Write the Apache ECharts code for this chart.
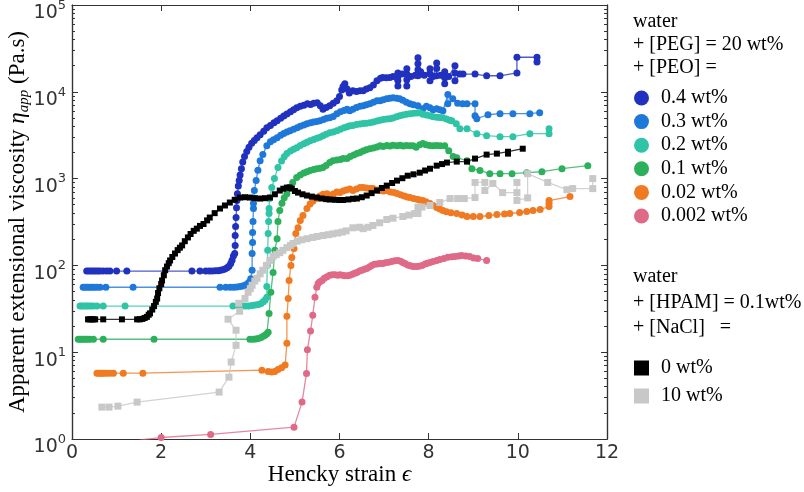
<!DOCTYPE html>
<html>
<head>
<meta charset="utf-8">
<script src="https://cdn.jsdelivr.net/npm/echarts@6/dist/echarts.min.js"></script>
<style>
html, body { margin: 0; padding: 0; background: #fff; }
#chart { width: 804px; height: 492px; }
</style>
</head>
<body>
<div id="chart"></div>
<script>
// [Hencky strain, apparent extensional viscosity (Pa.s)]
var peo_04 = [[0.33,86],[0.38,86],[0.43,86],[0.48,86],[0.53,86],[0.58,86],[0.63,86],[0.70,86],[0.78,86],[0.85,86],[1.00,86],[1.23,86],[2.69,86],[2.87,86],[3.00,86],[3.08,86],[3.15,86],[3.22,87],[3.28,87],[3.33,88],[3.38,89],[3.43,91],[3.48,94],[3.52,98],[3.56,105],[3.59,115],[3.62,128],
    [3.65,137],[3.66,170],[3.66,221],[3.67,280],[3.68,356],[3.69,460],[3.70,560],[3.71,670],
    [3.73,820],[3.75,950],[3.77,1100],[3.80,1300],[3.83,1550],[3.87,1800],[3.92,2050],[3.97,2300],[4.03,2550],[4.09,2750],[4.15,2950],[4.22,3200],[4.30,3500],[4.37,3850],[4.45,4100],[4.53,4400],[4.60,4650],[4.68,4950],[4.75,5250],[4.82,5550],[4.90,5900],[4.97,6200],[5.04,6550],[5.12,6800],[5.20,7000],[5.28,7300],[5.35,7150],[5.42,7400],[5.50,7500],[5.57,6900],[5.63,6300],[5.70,6600],[5.78,6900],[5.86,7400],[5.94,7900],[6.00,8800],[6.05,10500],[6.08,11500],[6.12,12400],[6.17,10800],[6.22,9700],[6.30,10300],[6.38,10100],[6.46,10300],[6.53,10300],[6.60,10800],[6.68,11100],[6.76,12000],[6.84,13400],[6.92,14300],[6.97,14600],[7.05,14500],[7.13,14600],
    [7.20,15000],[7.31,11700],[7.31,13500],[7.31,15000],[7.31,16500],[7.40,16000],[7.51,18400],[7.51,16000],[7.51,13800],[7.51,11700],[7.60,15000],[7.70,15500],[7.76,15300],[7.76,18000],[7.76,21000],[7.76,24600],[7.82,17000],[7.90,15500],[8.03,18400],[8.03,16000],[8.03,13400],[8.10,15000],[8.18,21500],[8.18,18500],[8.18,15300],[8.27,15500],[8.36,17000],[8.36,14500],[8.36,12400],[8.45,15000],[8.59,19900],[8.59,16500],[8.59,13400],[8.70,16000],[8.77,16000],[9.04,16000],[9.30,15300],[9.60,15300],[9.98,16500],[9.98,25000],[10.43,25000],[10.43,22000]];

var peo_03 = [[0.25,56],[0.30,56],[0.35,56],[0.40,56],[0.45,56],[0.50,56],[0.56,56],[0.63,56],[0.76,56],[1.37,56],[3.32,56],[3.45,56],[3.55,56],[3.63,56],[3.70,56.5],[3.77,57],[3.83,58],[3.88,59],[3.93,61],[3.97,64],[4.01,70],
    [4.04,88],[4.04,137],[4.05,184],[4.05,240],[4.06,321],[4.07,452],[4.07,520],[4.08,589],[4.09,728],
    [4.13,950],[4.17,1250],[4.22,1610],[4.28,1900],[4.37,2390],[4.45,2650],[4.52,2800],[4.60,2960],[4.68,3150],[4.75,3300],[4.82,3450],[4.89,3560],[4.97,3700],[5.05,3850],[5.12,4000],[5.20,4150],[5.27,4290],[5.35,4400],[5.42,4500],[5.49,4550],[5.56,4640],[5.64,4800],[5.71,4950],[5.78,5020],[5.86,5200],[5.94,5590],[6.02,5900],[6.10,6100],[6.17,6300],[6.23,6050],[6.30,6300],[6.38,6600],[6.46,6800],[6.53,6900],[6.60,7100],[6.68,7300],[6.76,7600],[6.84,7900],[6.91,7880],[6.98,8100],[7.06,8300],[7.13,8400],[7.20,8530],[7.28,8400],[7.35,8310],[7.42,8000],[7.50,7600],[7.58,7280],[7.66,7100],[7.76,6900],[7.87,6380],[7.95,6800],[8.03,6550],[8.10,6200],[8.18,6380],[8.25,6200],[8.32,6050],
    [8.43,9300],[8.43,7280],[8.54,8310],[8.65,7400],[8.76,7280],[8.86,7280],[9.04,7280],[9.04,5300],[9.08,4900],[9.33,5440],[9.60,5590],[9.89,5590],[10.27,5590],[10.49,5740]];

var peo_02 = [[0.18,34],[0.22,34],[0.27,34],[0.32,34],[0.37,34],[0.42,34],[0.48,34],[0.56,34],[0.70,34],[1.19,34],[3.61,34],[3.75,34],[3.83,34],[3.90,34],[3.97,34],[4.04,34.5],[4.11,35],[4.18,35.5],[4.24,36.5],[4.29,38],[4.33,40],
    [4.37,43],[4.37,57],[4.38,100],[4.39,149],[4.40,233],[4.41,321],[4.42,396],[4.42,452],[4.43,589],
    [4.48,790],[4.54,1000],[4.62,1340],[4.70,1600],[4.76,1780],[4.82,1940],[4.90,2080],[4.97,2180],[5.04,2270],[5.12,2400],[5.20,2520],[5.27,2620],[5.34,2730],[5.42,2830],[5.49,2920],[5.56,3000],[5.63,3120],[5.70,3250],[5.78,3380],[5.86,3450],[5.94,3560],[6.02,3700],[6.10,3850],[6.17,3950],[6.23,4060],[6.30,4100],[6.38,4200],[6.46,4250],[6.53,4300],[6.60,4350],[6.68,4400],[6.76,4500],[6.84,4600],[6.91,4700],[6.98,4800],[7.06,4850],[7.13,4900],[7.20,5000],[7.28,5150],[7.35,5300],[7.42,5400],[7.50,5500],[7.58,5590],[7.66,5650],[7.74,5700],[7.80,5740],[7.87,5500],[7.95,5400],[8.03,5300],[8.10,5150],[8.18,5100],[8.25,5050],[8.32,5020],[8.40,4850],[8.47,4700],[8.52,4640],
    [8.62,4290],[8.70,3760],[8.86,3760],[9.08,3290],[9.30,3120],[9.60,3040],[9.89,3040],[10.27,3290],[10.70,3290],[10.70,3760]];

var peo_01 = [[0.14,14.1],[0.18,14.1],[0.22,14.1],[0.26,14.1],[0.30,14.1],[0.35,14.1],[0.40,14.1],[0.48,14.1],[0.70,14.1],[1.84,14.1],[3.99,14.1],[4.06,14.1],[4.12,14.2],[4.18,14.4],[4.24,14.8],[4.29,15.3],[4.33,15.7],[4.37,16.3],[4.40,17.0],
    [4.42,28],[4.46,49],[4.51,83],[4.55,149],[4.60,203],[4.62,321],[4.66,429],[4.71,520],[4.76,600],
    [4.82,670],[4.88,790],[4.95,900],[5.04,1030],[5.12,1100],[5.20,1160],[5.27,1200],[5.34,1240],[5.42,1270],[5.49,1300],[5.56,1320],[5.63,1340],[5.70,1420],[5.78,1530],[5.85,1610],[5.94,1640],[6.02,1660],[6.08,1700],[6.17,1700],[6.24,1800],[6.32,1870],[6.39,1940],[6.46,2000],[6.53,2080],[6.60,2150],[6.68,2210],[6.76,2250],[6.84,2320],[6.91,2390],[6.98,2350],[7.06,2400],[7.13,2380],[7.20,2420],[7.29,2390],[7.36,2420],[7.43,2380],[7.50,2400],[7.58,2390],[7.65,2390],[7.72,2300],[7.80,2450],[7.87,2530],[7.94,2450],[8.02,2400],[8.10,2390],[8.18,2400],[8.26,2390],[8.36,2390],
    [8.45,2100],[8.55,1800],[8.63,1740],[8.86,1610],[8.97,1300],[9.15,1240],[9.37,1140],[9.60,1140],[9.87,1140],[10.20,1170],[10.54,1200],[10.99,1300],[11.57,1410]];

var peo_002 = [[0.56,5.74],[0.60,5.74],[0.64,5.74],[0.68,5.74],[0.72,5.74],[0.78,5.74],[0.85,5.74],[0.93,5.74],[1.15,5.74],[1.59,5.74],[4.26,6.2],[4.40,6.0],[4.48,5.9],[4.55,6.0],[4.62,6.3],[4.70,6.6],[4.78,7.1],
    [4.82,12.7],[4.82,26],[4.85,41.5],[4.87,67],[4.91,100],[4.93,123],[4.98,157],[5.02,233],[5.07,271],[5.12,330],[5.18,376],[5.27,452],[5.34,510],[5.40,550],[5.49,589],[5.56,630],[5.63,660],[5.72,670],[5.78,640],[5.86,665],[5.94,700],[6.01,690],[6.08,720],[6.15,740],[6.23,760],[6.30,728],[6.38,760],[6.46,790],[6.53,788],[6.60,780],[6.68,770],[6.75,767],[6.84,740],[6.92,730],[6.99,720],[7.06,728],[7.14,700],[7.22,690],[7.29,673],[7.37,650],[7.45,630],[7.52,615],[7.58,605],[7.66,590],[7.74,580],[7.80,565],[7.87,559],
    [7.94,540],[8.03,515],[8.10,490],[8.18,465],[8.25,445],[8.32,429],[8.40,415],[8.50,405],[8.63,396],[8.75,380],[8.86,366],[9.00,366],[9.15,366],[9.35,375],[9.53,386],[9.70,392],[9.82,396],[10.04,407],[10.20,418],[10.34,429],[10.50,440],[10.70,477],[10.70,520],[10.70,559],[11.17,621]];

var peo_0002 = [[1.32,0.91],[1.57,0.98],[2.00,1.04],[3.11,1.13],[4.98,1.37],[5.16,2.66],[5.26,5.7],[5.28,10.7],[5.35,17.5],[5.40,26.6],[5.45,42.9],[5.49,55.9],[5.52,62],[5.56,65],[5.61,67],[5.66,71],[5.72,74],[5.78,76.8],[5.84,78],[5.90,78],[5.96,77],[6.01,78],[6.07,77],[6.12,76],[6.18,76],[6.23,76.8],[6.29,79],[6.34,81],[6.39,83.1],[6.45,86],[6.50,88],[6.56,90],[6.61,92.4],[6.67,96],[6.72,100],[6.78,103],[6.84,104],[6.90,105],[6.97,105],[7.03,107],[7.10,109],[7.17,111],[7.24,113],[7.31,114],[7.37,112],[7.42,108],[7.47,105],[7.53,101],[7.59,99],[7.65,97.4],[7.72,97],[7.78,98],[7.85,100],[7.92,104],[7.97,106],[8.03,108],[8.10,111],[8.18,114],[8.25,117],[8.34,120],[8.43,124],[8.52,126],[8.59,127],[8.67,128],[8.74,130],[8.83,128],[8.92,127],[9.01,122],[9.10,120],[9.30,114]];

var hpam_0 = [[0.36,23.9],[0.40,23.9],[0.44,23.9],[0.48,23.9],[0.52,23.9],[0.70,23.9],[1.12,23.9],[1.46,23.9],[1.52,23.9],[1.58,24.2],[1.63,24.8],[1.68,25.5],[1.72,27],[1.75,28],[1.80,31],[1.84,34],[1.88,38],[1.91,41.5],[1.93,48],[1.96,54.5],[2.00,61],[2.02,67],[2.06,77],[2.09,88],[2.13,97],[2.17,106],[2.20,114],[2.25,125],[2.31,137],[2.37,150],[2.42,160],[2.47,170],[2.53,190],[2.60,210],[2.66,230],[2.73,250],[2.80,265],[2.87,285],[2.95,300],[3.03,330],[3.09,356],[3.20,400],[3.32,452],[3.43,490],[3.54,530],[3.65,570],[3.77,605],[3.88,610],[3.99,605],[4.10,595],[4.22,589],[4.33,595],[4.44,605],[4.55,660],[4.66,728],[4.74,765],[4.82,788],[4.88,790],[4.93,767],[5.00,720],[5.07,690],[5.17,660],[5.27,638],[5.38,620],[5.49,605],[5.60,590],[5.70,580],[5.78,574],[5.90,570],[6.00,567],[6.08,567],[6.20,575],[6.30,585],[6.39,589],[6.50,610],[6.61,638],[6.72,680],[6.84,728],[6.95,780],[7.06,830],[7.18,890],[7.29,948],[7.41,1010],[7.53,1080],[7.66,1120],[7.80,1170],[7.92,1240],[8.03,1300],[8.18,1410],[8.30,1470],[8.41,1530],[8.63,1570],[8.86,1570],[9.04,1700],[9.30,1890],[9.53,1940],[9.78,2040],[9.78,1940],[10.11,2210]];

var hpam_10 = [[0.67,2.33],[0.83,2.33],[1.03,2.39],[1.46,2.66],[3.30,3.47],[3.52,5.16],[3.57,7.7],[3.68,12.0],[3.68,17.9],[3.50,24.0],[3.76,29.6],[3.74,36.6],[3.88,41.5],[3.95,49],[4.00,54],[4.04,59],[4.10,66],[4.15,71],[4.22,80],[4.28,88],[4.36,100],[4.44,114],[4.51,127],[4.58,133],[4.66,140],[4.73,149],[4.82,160],[4.90,170],[4.96,179],[5.05,190],[5.15,197],[5.27,203],[5.40,210],[5.50,215],[5.63,221],[5.75,226],[5.85,231],[5.96,236],[6.06,242],[6.15,250],[6.30,271],[6.45,275],[6.53,265],[6.64,275],[6.75,288],[6.90,310],[7.06,338],[7.20,350],[7.42,366],[7.56,380],[7.69,396],
    [7.76,396],[7.76,470],[7.85,470],[8.03,490],[8.25,530],[8.48,589],[8.65,589],[8.80,589],[9.04,605],[9.04,903],[9.26,903],[9.26,728],[9.44,880],[9.66,690],[9.98,690],[9.98,903],[9.98,560],[10.22,600],[10.22,1140],[10.67,903],[11.10,745],[11.23,767],[11.68,767],[11.68,1000]];

var peo_names = ['0.4 wt%', '0.3 wt%', '0.2 wt%', '0.1 wt%', '0.02 wt%', '0.002 wt%'];
var peo_values = [peo_04, peo_03, peo_02, peo_01, peo_002, peo_0002];
var peo_colors = ['#2131bf', '#1e78d9', '#2ec4a5', '#2db05c', '#f07a22', '#df6a87'];

var hpam_names = ['0 wt%', '10 wt%'];
var hpam_values = [hpam_0, hpam_10];
var hpam_colors = ['#000000', '#c8c8c8'];

var strain_ticks = [0, 2, 4, 6, 8, 10, 12];

// minor ticks of the log axis: 2..9 in every decade
var minor_ticks = [];
for (var d = 1; d < 100000; d *= 10) {
    for (var k = 2; k < 10; k++)
        minor_ticks.push(k * d);
}

var serif = '"Liberation Serif", "DejaVu Serif", serif';
var sans = '"DejaVu Sans", sans-serif';
var axis_color = '#333333';

function make_series(name, data, color, symbol, size) {
    return {
        name: name,
        type: 'line',
        data: data,
        symbol: symbol,
        symbolSize: size,
        itemStyle: { color: color },
        lineStyle: { color: color, width: 1.3, opacity: 0.8 },
        emphasis: { disabled: true },
        clip: true,
        animation: false
    };
}

function y_axis(position, ticks, length) {
    var axis = {
        type: 'log',
        logBase: 10,
        min: 1,
        max: 100000,
        position: position,
        axisLine: { show: true, lineStyle: { color: axis_color, width: 1.2 } },
        axisTick: { show: true, inside: true, length: length, lineStyle: { color: axis_color, width: 1 } },
        axisLabel: { show: false },
        splitLine: { show: false }
    };
    if (ticks)
        axis.axisTick.customValues = ticks;
    return axis;
}

var chart = echarts.init(document.getElementById('chart'), null, { renderer: 'canvas' });

var y_main = y_axis('left', null, 6);
y_main.axisLabel = {
    show: true,
    margin: 6,
    padding: [12, 0, 0, 0],
    formatter: function (v) {
        return '{b|10}{s|' + Math.round(Math.log10(v)) + '}';
    },
    rich: {
        b: { fontFamily: sans, fontSize: 19, color: axis_color, lineHeight: 16, verticalAlign: 'bottom' },
        s: { fontFamily: sans, fontSize: 13, color: axis_color, lineHeight: 24, verticalAlign: 'top' }
    }
};
y_main.name = 'Apparent extensional viscosity {i|η}{sub|app} (Pa.s)';
y_main.nameLocation = 'middle';
y_main.nameGap = 40;
y_main.nameMoveOverlap = false;
y_main.nameTextStyle = {
    fontFamily: serif, fontSize: 23, color: '#000', lineHeight: 28,
    rich: {
        i: { fontFamily: serif, fontSize: 23, fontStyle: 'italic', color: '#000', lineHeight: 28 },
        sub: { fontFamily: serif, fontSize: 15, fontStyle: 'italic', color: '#000', lineHeight: 15, verticalAlign: 'bottom' }
    }
};

var series = [];
for (var i = 0; i < peo_names.length; i++)
    series.push(make_series(peo_names[i], peo_values[i], peo_colors[i], 'circle', 7));
for (var i = 0; i < hpam_names.length; i++)
    series.push(make_series(hpam_names[i], hpam_values[i], hpam_colors[i], 'rect', 6));
series[7].symbolSize = 7;

var legend_text = { fontFamily: serif, fontSize: 20, color: '#000', lineHeight: 20, padding: [0, 0, 0, 7] };

function header(text, y) {
    return {
        type: 'text',
        x: 633,
        y: y,
        style: { text: text, font: '20px ' + serif, fill: '#000', verticalAlign: 'middle' }
    };
}

var option = {
    animation: false,
    backgroundColor: '#fff',
    grid: { left: 72, right: 197, top: 5, bottom: 53, containLabel: false, outerBoundsMode: 'none' },
    xAxis: [{
        type: 'value',
        min: 0,
        max: 12,
        interval: 2,
        position: 'bottom',
        axisLine: { show: true, lineStyle: { color: axis_color, width: 1.2 } },
        axisTick: { show: true, inside: true, length: 6, lineStyle: { color: axis_color, width: 1 } },
        axisLabel: { show: true, margin: 5, fontFamily: sans, fontSize: 19, color: axis_color,
            customValues: strain_ticks },
        splitLine: { show: false },
        name: 'Hencky strain {i|ϵ}',
        nameLocation: 'middle',
        nameGap: 24,
        nameMoveOverlap: false,
        nameTextStyle: {
            fontFamily: serif, fontSize: 23, color: '#000',
            rich: { i: { fontFamily: serif, fontSize: 23, fontStyle: 'italic', color: '#000' } }
        }
    }, {
        type: 'value',
        min: 0,
        max: 12,
        interval: 2,
        position: 'top',
        axisLine: { show: true, lineStyle: { color: axis_color, width: 1.2 } },
        axisTick: { show: true, inside: true, length: 6, lineStyle: { color: axis_color, width: 1 } },
        axisLabel: { show: false },
        splitLine: { show: false }
    }],
    yAxis: [
        y_main,
        y_axis('left', minor_ticks, 3),
        y_axis('right', null, 6),
        y_axis('right', minor_ticks, 3)
    ],
    legend: [{
        data: peo_names,
        orient: 'vertical',
        left: 634,
        top: 88,
        padding: 0,
        itemGap: 3.6,
        itemWidth: 15,
        itemHeight: 15,
        icon: 'circle',
        selectedMode: false,
        textStyle: legend_text
    }, {
        data: hpam_names,
        orient: 'vertical',
        left: 634,
        top: 358,
        padding: 0,
        itemGap: 8,
        itemWidth: 15,
        itemHeight: 15,
        icon: 'rect',
        selectedMode: false,
        textStyle: legend_text
    }],
    graphic: [
        header('water', 22),
        header('+ [PEG] = 20 wt%', 45),
        header('+ [PEO] =', 68),
        header('water', 277),
        header('+ [HPAM] = 0.1wt%', 303),
        header('+ [NaCl]   =', 328)
    ],
    series: series
};

chart.setOption(option);
</script>
</body>
</html>
